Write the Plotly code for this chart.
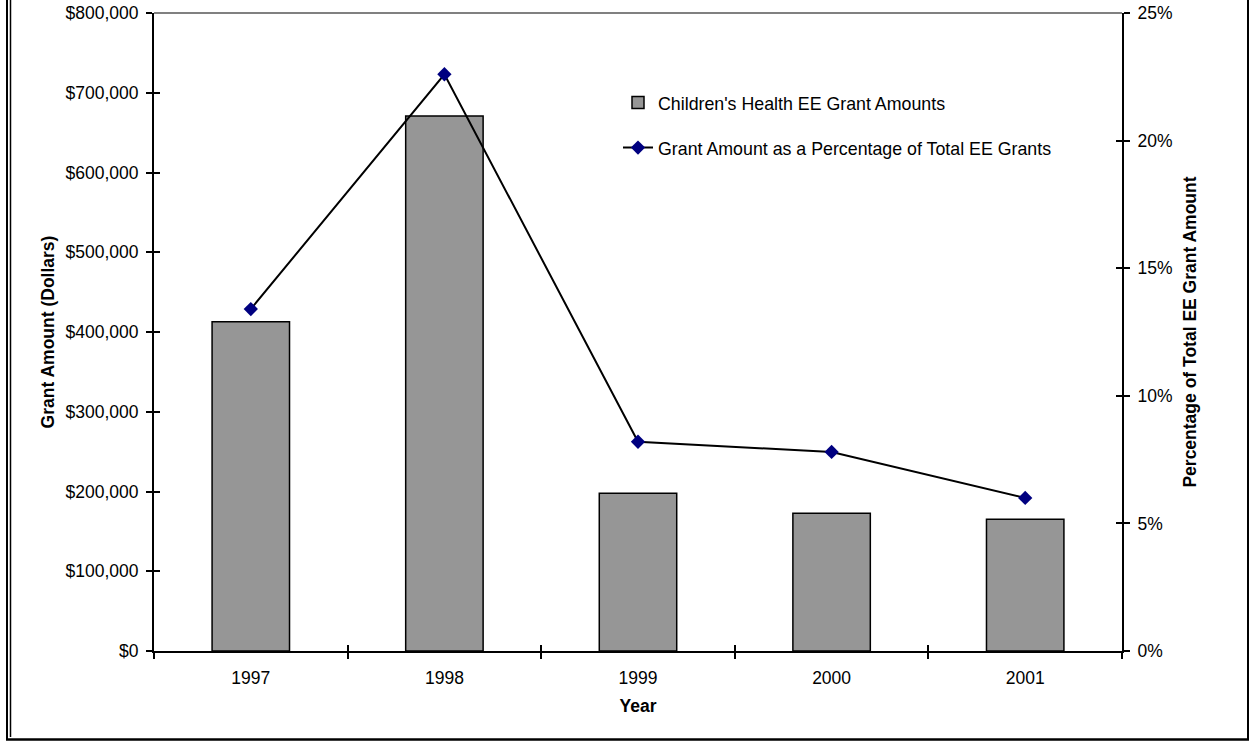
import plotly.graph_objects as go

# Data
years = ["1997", "1998", "1999", "2000", "2001"]
grant_amounts = [413000, 671000, 197700, 172700, 165100]
grant_pct = [13.4, 22.6, 8.2, 7.8, 6.0]

left_ticks = [0, 100000, 200000, 300000, 400000, 500000, 600000, 700000, 800000]
left_labels = ["$0", "$100,000", "$200,000", "$300,000", "$400,000",
               "$500,000", "$600,000", "$700,000", "$800,000"]
right_ticks = [0, 5, 10, 15, 20, 25]
right_labels = ["0%", "5%", "10%", "15%", "20%", "25%"]

W, H = 1250, 742
L, R, T, B = 154, 128, 13, 91
PW, PH = W - L - R, H - T - B

FONT = "Liberation Sans, Arial, sans-serif"


def px_x(p):
    return (p - L) / PW


def px_y(p):
    return (H - B - p) / PH


fig = go.Figure()

fig.add_trace(go.Bar(
    x=years, y=grant_amounts, width=0.4,
    name="Children's Health EE Grant Amounts",
    marker=dict(color="#969696", line=dict(color="black", width=1.5)),
    legend="legend",
))

fig.add_trace(go.Scatter(
    x=years, y=grant_pct, yaxis="y2", mode="lines+markers",
    name="Grant Amount as a Percentage of Total EE Grants",
    line=dict(color="black", width=2),
    marker=dict(symbol="diamond", size=11, color="#000080"),
    legend="legend2",
))

tickfont = dict(family=FONT, size=17.5, color="black")
titlefont = dict(family=FONT, size=17.5, color="black")
legendfont = dict(family=FONT, size=17.8, color="black")

fig.update_layout(
    width=W, height=H,
    margin=dict(l=L, r=R, t=T, b=B, autoexpand=False),
    paper_bgcolor="white", plot_bgcolor="white",
    font=dict(family=FONT, color="black"),
    xaxis=dict(
        type="category", categoryorder="array", categoryarray=years,
        range=[-0.5, 4.5], automargin=False,
        tickson="boundaries", ticks="outside", ticklen=6, tickwidth=2,
        tickcolor="black", showline=True, linecolor="black", linewidth=2,
        showgrid=False, tickfont=tickfont, ticklabelstandoff=10,
        title=dict(text="<b>Year</b>", font=titlefont, standoff=13),
    ),
    xaxis2=dict(
        overlaying="x", anchor="y", range=[-0.5, 4.5], automargin=False,
        tickvals=[0.5, 1.5, 2.5, 3.5], ticks="inside", ticklen=6,
        tickwidth=2, tickcolor="black", showticklabels=False,
        showgrid=False, showline=False, zeroline=False,
    ),
    yaxis=dict(
        range=[0, 800000], tickvals=left_ticks, ticktext=left_labels,
        automargin=False,
        ticks="outside", ticklen=6, tickwidth=2, tickcolor="black",
        showline=True, linecolor="black", linewidth=2, showgrid=False,
        zeroline=False, tickfont=tickfont, ticklabelstandoff=4,
        title=dict(text="<b>Grant Amount (Dollars)</b>", font=titlefont,
                   standoff=6),
    ),
    yaxis3=dict(
        overlaying="y", side="left", range=[0, 800000], tickvals=left_ticks,
        automargin=False,
        ticks="inside", ticklen=6, tickwidth=2, tickcolor="black",
        showticklabels=False, showgrid=False, showline=False, zeroline=False,
    ),
    yaxis2=dict(
        overlaying="y", side="right", range=[0, 25], tickvals=right_ticks,
        ticktext=right_labels, ticks="outside", ticklen=6, tickwidth=2,
        automargin=False,
        tickcolor="black", showline=True, linecolor="black", linewidth=2,
        showgrid=False, zeroline=False, tickfont=tickfont,
        ticklabelstandoff=4,
        title=dict(text="<b>Percentage of Total EE Grant Amount</b>",
                   font=titlefont, standoff=12),
    ),
    yaxis4=dict(
        overlaying="y", side="right", range=[0, 25], tickvals=right_ticks,
        automargin=False,
        ticks="inside", ticklen=6, tickwidth=2, tickcolor="black",
        showticklabels=False, showgrid=False, showline=False, zeroline=False,
    ),
    legend=dict(
        x=px_x(618), y=px_y(103), xanchor="left", yanchor="middle",
        bgcolor="rgba(0,0,0,0)", font=legendfont,
    ),
    legend2=dict(
        x=px_x(618), y=px_y(148), xanchor="left", yanchor="middle",
        bgcolor="rgba(0,0,0,0)", font=legendfont,
    ),
    showlegend=True,
)

# Invisible traces to activate the overlay tick axes
fig.add_trace(go.Scatter(x=[None], y=[None], xaxis="x2", yaxis="y3",
                         showlegend=False, hoverinfo="skip"))
fig.add_trace(go.Scatter(x=[None], y=[None], xaxis="x2", yaxis="y4",
                         showlegend=False, hoverinfo="skip"))

shapes = [
    # gray top edge of the plot area
    dict(type="line", xref="paper", yref="paper", x0=0, x1=1, y0=1, y1=1,
         line=dict(color="#808080", width=2)),
    # outer frame: double line on the left, single on right and bottom
    dict(type="line", xref="paper", yref="paper",
         x0=px_x(7), x1=px_x(7), y0=px_y(0), y1=px_y(740),
         line=dict(color="black", width=2)),
    dict(type="line", xref="paper", yref="paper",
         x0=px_x(10.5), x1=px_x(10.5), y0=px_y(0), y1=px_y(737),
         line=dict(color="black", width=1.5)),
    dict(type="line", xref="paper", yref="paper",
         x0=px_x(1248), x1=px_x(1248), y0=px_y(0), y1=px_y(740),
         line=dict(color="black", width=2)),
    dict(type="line", xref="paper", yref="paper",
         x0=px_x(6), x1=px_x(1249), y0=px_y(739.5), y1=px_y(739.5),
         line=dict(color="black", width=2.5)),
]
fig.update_layout(shapes=shapes)

fig.write_html("out.html")
